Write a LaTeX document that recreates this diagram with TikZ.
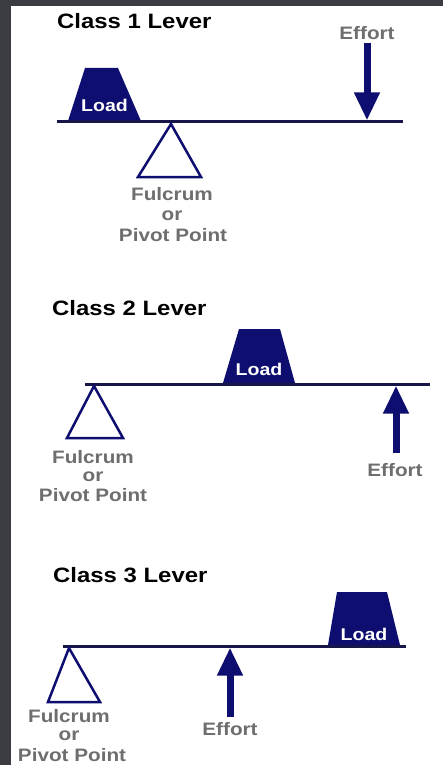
\documentclass[tikz,border=0pt]{standalone}
\usepackage{fontspec}
\setmainfont{Liberation Sans}[FakeStretch=1.15]
\usetikzlibrary{arrows.meta}
\definecolor{backdrop}{RGB}{58,60,66}
\definecolor{navy}{RGB}{14,14,112}
\definecolor{beamnavy}{RGB}{22,22,72}
\definecolor{labelgray}{RGB}{110,110,110}
\begin{document}
\begin{tikzpicture}[x=1pt,y=-1pt,
  title/.style={anchor=base west, inner sep=0pt, font=\fontsize{20.8}{21}\selectfont\bfseries},
  lbl/.style={anchor=base, inner sep=0pt, text=labelgray, font=\fontsize{18}{18}\selectfont\bfseries},
  loadtext/.style={anchor=base, inner sep=0pt, text=white, font=\fontsize{17}{17}\selectfont\bfseries},
  beam/.style={draw=beamnavy, line width=3pt},
  pivot/.style={draw=navy, line width=2.5pt, fill=white, line join=miter},
  loadshape/.style={fill=navy},
  effort/.style={draw=navy, line width=7pt, -{Triangle[width=24pt,length=28pt]}}]

\useasboundingbox (0,0) rectangle (443,765);
\fill[backdrop] (0,0) rectangle (443,765);
\fill[white] (11,6) rectangle (443,765);

% ---------- Class 1 ----------
\node[title] (t1) at (57,29) {Class 1 Lever};
\coordinate (b1l) at (57,122);
\coordinate (b1r) at (403,122);
\fill[loadshape] (68,121) -- (85,68) -- (118,68) -- (141,121) -- cycle;
\node[loadtext] (load1) at (104.5,112) {Load};
\draw[beam] (b1l) -- (b1r);
\coordinate (p1) at (171,124);
\draw[pivot] (p1) -- (201,177) -- (138,177) -- cycle;
\node[lbl] (f1a) at (172,200) {Fulcrum};
\node[lbl] (f1b) at (172,220.5) {or};
\node[lbl] (f1c) at (173,241) {Pivot Point};
\node[lbl] (e1) at (367,40) {Effort};
\coordinate (e1s) at (367,43);
\coordinate (e1t) at (367,120.5);
\draw[effort] (e1s) -- (e1t);

% ---------- Class 2 ----------
\node[title] (t2) at (52,315) {Class 2 Lever};
\coordinate (b2l) at (85,384);
\coordinate (b2r) at (430,384);
\fill[loadshape] (223,383) -- (239,329) -- (280,329) -- (295,383) -- cycle;
\node[loadtext] (load2) at (259,375) {Load};
\draw[beam] (b2l) -- (b2r);
\coordinate (p2) at (94,386);
\draw[pivot] (p2) -- (123,438) -- (67,438) -- cycle;
\node[lbl] (f2a) at (93,463) {Fulcrum};
\node[lbl] (f2b) at (93,481) {or};
\node[lbl] (f2c) at (93,501) {Pivot Point};
\node[lbl] (e2) at (395,476) {Effort};
\coordinate (e2s) at (396,453);
\coordinate (e2t) at (396,385.5);
\draw[effort] (e2s) -- (e2t);

% ---------- Class 3 ----------
\node[title] (t3) at (53,582) {Class 3 Lever};
\coordinate (b3l) at (63,646);
\coordinate (b3r) at (406,646);
\fill[loadshape] (328,645) -- (337,592) -- (387,592) -- (400,645) -- cycle;
\node[loadtext] (load3) at (364,640) {Load};
\draw[beam] (b3l) -- (b3r);
\coordinate (p3) at (69,648);
\draw[pivot] (p3) -- (100,702) -- (48,702) -- cycle;
\node[lbl] (f3a) at (69,722) {Fulcrum};
\node[lbl] (f3b) at (69,740.5) {or};
\node[lbl] (f3c) at (72,761) {Pivot Point};
\node[lbl] (e3) at (230,735) {Effort};
\coordinate (e3s) at (230,717);
\coordinate (e3t) at (230,647.5);
\draw[effort] (e3s) -- (e3t);
\end{tikzpicture}
\end{document}
